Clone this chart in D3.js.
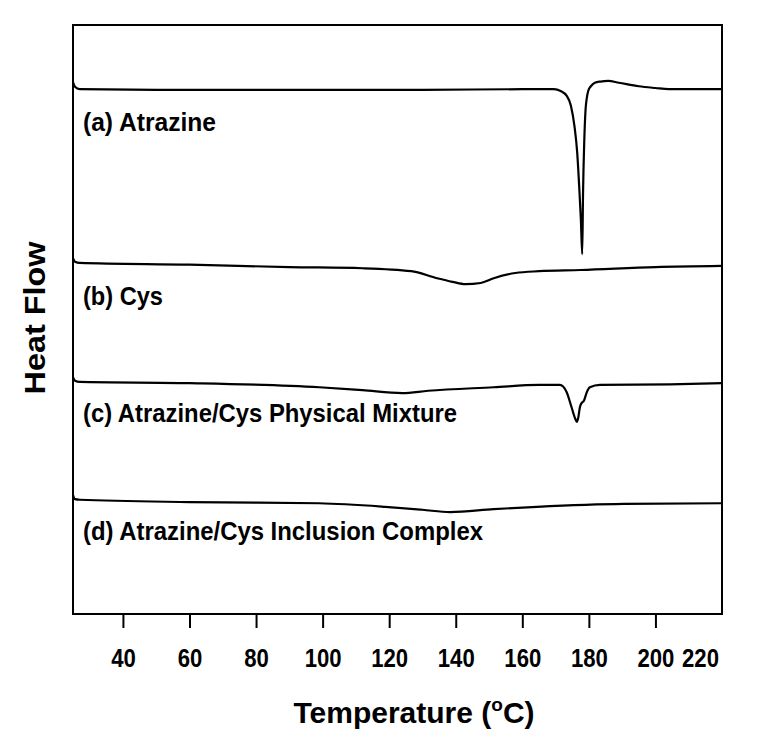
<!DOCTYPE html>
<html>
<head>
<meta charset="utf-8">
<script src="https://cdn.jsdelivr.net/npm/d3@7"></script>
<style>
  html, body { margin: 0; padding: 0; background: #fff; }
  svg { display: block; }
  text { font-family: "Liberation Sans", Arial, Helvetica, sans-serif; font-weight: bold; fill: #000; }
</style>
</head>
<body>
<svg id="chart" width="761" height="744"></svg>
<script>
// ---- Data (Temperature in °C, Heat Flow in arbitrary units, curves offset for display) ----
const seriesNames = ["(a) Atrazine", "(b) Cys", "(c) Atrazine/Cys Physical Mixture", "(d) Atrazine/Cys Inclusion Complex"];

const tempA = [25, 25.6, 27, 50, 90, 130, 160, 169.5, 171.5, 173.3, 174.6, 175.7, 176.5, 177.1, 177.6, 178.0,
               178.25, 178.6, 179.0, 179.3, 179.8, 180.6, 181.8, 183.5, 185.8, 189, 195, 200, 204, 220];
const flowA = [90.3, 89.5, 89.1, 89.0, 89.0, 89.0, 89.1, 89.1, 88.8, 88.0, 86.3, 82.7, 78.3, 72.5, 66.9, 61.1,
               71.5, 80.0, 85.6, 87.3, 88.8, 89.6, 90.2, 90.4, 90.5, 90.2, 89.6, 89.3, 89.1, 89.1];

const tempB = [25, 25.6, 27, 60, 90, 112, 126.6, 134.4, 139, 142.9, 147.5, 151.4, 157.9, 165, 177.5, 200, 220];
const flowB = [60.4, 59.8, 59.6, 59.3, 58.9, 58.7, 58.2, 57.0, 56.4, 56.0, 56.2, 57.0, 57.9, 58.2, 58.4, 58.9, 59.1];

const tempC = [25, 25.6, 27, 60, 99, 112, 123.9, 131.7, 151.4, 165, 171.3, 173.3, 174.8, 175.8, 176.4, 176.8,
               177.3, 177.8, 178.5, 179.4, 180.3, 183.3, 204.4, 220];
const flowC = [40.2, 39.6, 39.4, 39.2, 38.5, 38.0, 37.5, 37.9, 38.5, 38.9, 38.9, 37.7, 35.1, 33.3, 32.6, 33.3,
               35.1, 35.8, 36.2, 37.7, 38.5, 38.9, 39.0, 39.2];

const tempD = [25, 25.6, 27, 60, 99, 118.8, 130, 138.3, 151.4, 164.4, 190.6, 220];
const flowD = [20.2, 19.5, 19.4, 19.0, 18.8, 18.2, 17.7, 17.3, 17.8, 18.2, 18.7, 18.8];

const xTickValues = [40, 60, 80, 100, 120, 140, 160, 180, 200, 220];
const xDomain = [25, 220];
const yDomain = [0, 100];

// ---- Layout ----
const svg = d3.select("#chart");
const mLeft = 73, mRight = 722, mTop = 25, mBottom = 614;

const x = d3.scaleLinear().domain(xDomain).range([mLeft, mRight]);
const y = d3.scaleLinear().domain(yDomain).range([mBottom, mTop]);

// frame
svg.append("rect")
  .attr("x", mLeft).attr("y", mTop)
  .attr("width", mRight - mLeft).attr("height", mBottom - mTop)
  .attr("fill", "none").attr("stroke", "#000").attr("stroke-width", 2);

// x axis
const xAxis = d3.axisBottom(x)
  .tickValues(xTickValues)
  .tickSize(14)
  .tickPadding(21)
  .tickFormat(d3.format("d"));

const gx = svg.append("g")
  .attr("transform", `translate(0,${mBottom})`)
  .call(xAxis);
gx.select(".domain").remove();
gx.selectAll(".tick line").attr("stroke", "#000").attr("stroke-width", 2);
gx.selectAll(".tick text")
  .attr("font-size", 26)
  .attr("font-family", "'Liberation Sans', Arial, sans-serif")
  .attr("font-weight", "bold")
  .attr("fill", "#000")
  .attr("textLength", d => String(d).length * 12.3)
  .attr("lengthAdjust", "spacingAndGlyphs");
// last tick (220) sits on frame edge: no tick mark, label pulled inside
gx.selectAll(".tick").filter(d => d === 220)
  .call(t => t.select("line").remove())
  .select("text").attr("x", -22);

// curves
const line = d3.line()
  .x(d => x(d[0]))
  .y(d => y(d[1]))
  .curve(d3.curveMonotoneX);

const allSeries = [
  d3.zip(tempA, flowA),
  d3.zip(tempB, flowB),
  d3.zip(tempC, flowC),
  d3.zip(tempD, flowD)
];

svg.append("g").selectAll("path")
  .data(allSeries)
  .join("path")
  .attr("d", line)
  .attr("fill", "none")
  .attr("stroke", "#000")
  .attr("stroke-width", 2.2)
  .attr("stroke-linejoin", "round");

// series labels
const labelBaselines = [131, 305, 422, 540];
const labelWidths = [133, 80, 374, 400];
svg.append("g").selectAll("text")
  .data(seriesNames)
  .join("text")
  .attr("x", 83)
  .attr("y", (d, i) => labelBaselines[i])
  .attr("font-size", 25)
  .attr("textLength", (d, i) => labelWidths[i])
  .attr("lengthAdjust", "spacingAndGlyphs")
  .text(d => d);

// x title
const xt = svg.append("text")
  .attr("x", 414).attr("y", 723)
  .attr("text-anchor", "middle")
  .attr("font-size", 30);
xt.append("tspan").text("Temperature (");
xt.append("tspan").attr("font-size", 19).attr("dy", -12).text("o");
xt.append("tspan").attr("dy", 12).text("C)");

// y title
svg.append("text")
  .attr("transform", "translate(45,318) rotate(-90)")
  .attr("text-anchor", "middle")
  .attr("font-size", 30)
  .attr("textLength", 153)
  .attr("lengthAdjust", "spacingAndGlyphs")
  .text("Heat Flow");
</script>
</body>
</html>
